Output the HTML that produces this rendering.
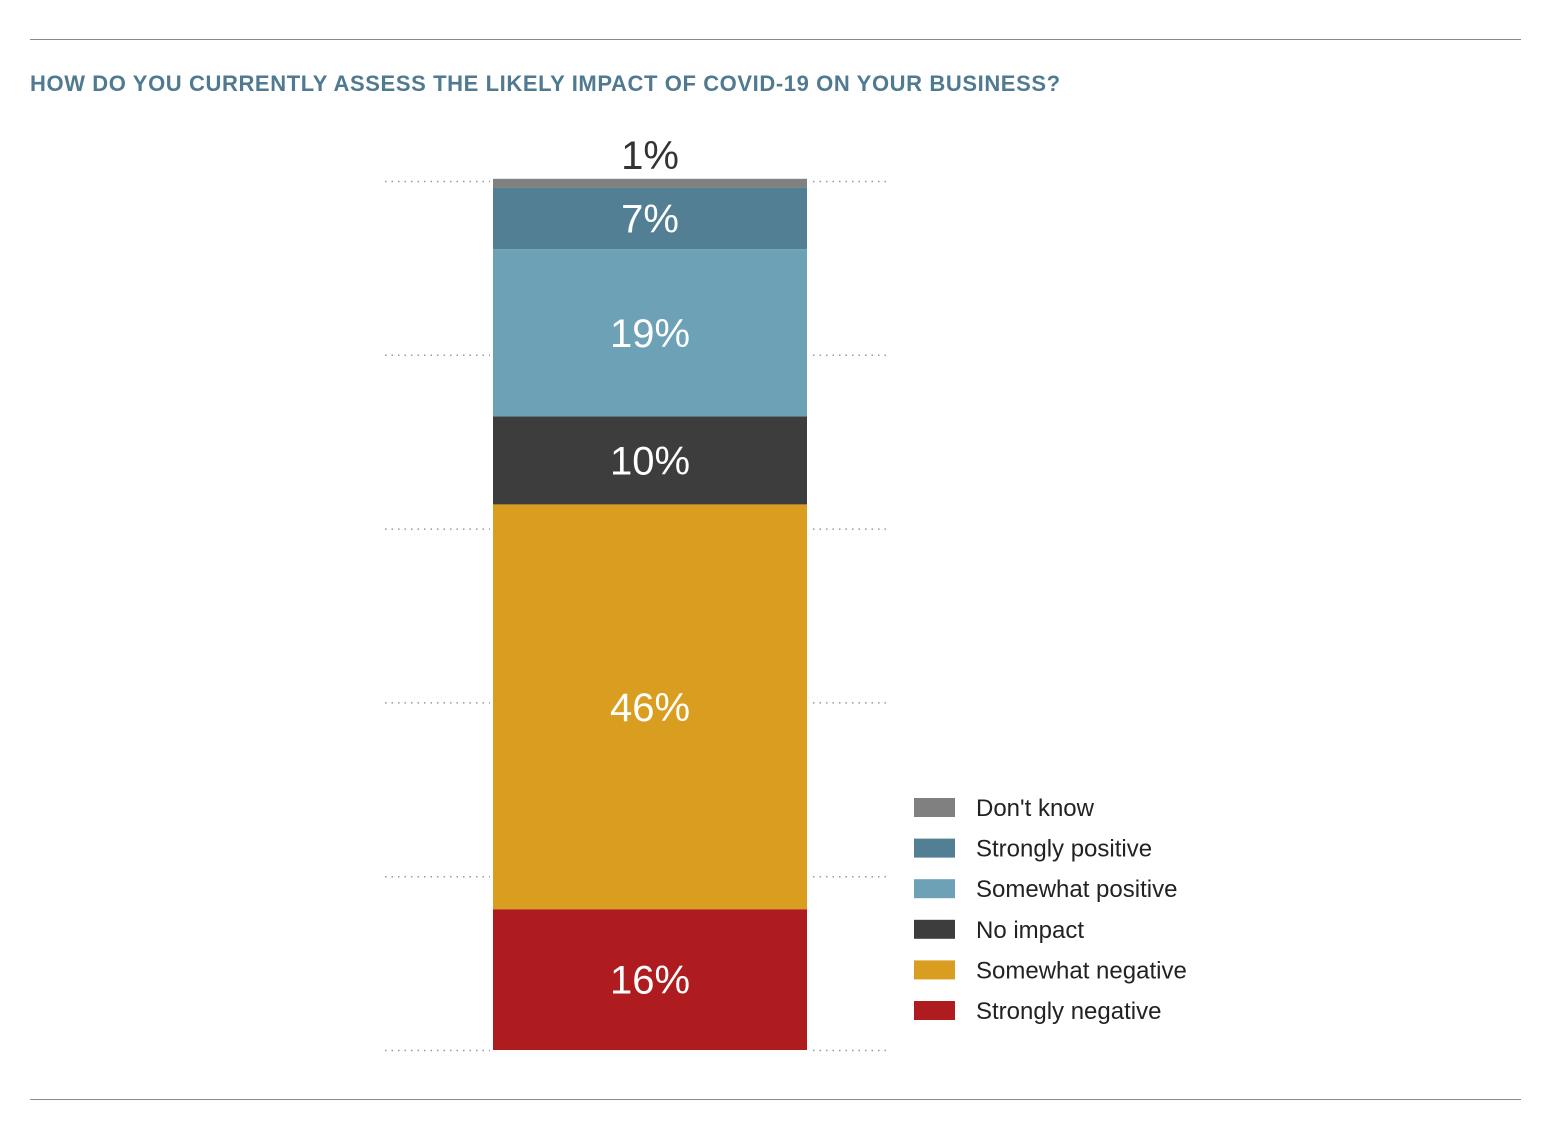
<!DOCTYPE html>
<html><head><meta charset="utf-8">
<style>
body{margin:0;background:#fff;width:1556px;height:1135px;overflow:hidden;font-family:"Liberation Sans",sans-serif;}
</style></head>
<body>
<svg width="1556" height="1135" viewBox="0 0 1556 1135">
<line x1="30" y1="39.5" x2="1521" y2="39.5" stroke="#8a8a8a" stroke-width="1"/>
<line x1="30" y1="1099.5" x2="1521" y2="1099.5" stroke="#8a8a8a" stroke-width="1"/>
<text x="30" y="91" font-size="22" font-weight="bold" fill="#4f7a91" letter-spacing="0.6">HOW DO YOU CURRENTLY ASSESS THE LIKELY IMPACT OF COVID-19 ON YOUR BUSINESS?</text>
<g id="grid"></g>
<g id="bars"></g>
<g id="legend"></g>
</svg>
<script>
const categories=["Strongly negative","Somewhat negative","No impact","Somewhat positive","Strongly positive","Don't know"];
const values=[16,46,10,19,7,1];
const colors=["#ae1c20","#d99d1f","#3d3d3d","#6ca1b6","#527f94","#808080"];
const gridTicks=[0,20,40,60,80,100];
const NS="http://www.w3.org/2000/svg";
const base=1050, barScale=8.8, gridScale=8.69;
const yBar=v=>base-v*barScale;
const yGrid=v=>base-v*gridScale;
function mk(t,a){const e=document.createElementNS(NS,t);for(const k in a)e.setAttribute(k,a[k]);return e;}
const grid=document.getElementById('grid');
gridTicks.forEach(t=>{
 const y=yGrid(t)+0.5;
 [[385,490],[813,886]].forEach(([a,b],i)=>{
  const l=mk('line',{x1:a,y1:y,x2:b,y2:y,stroke:'#999','stroke-width':1.5,'stroke-dasharray':'1.5 5'});
  
  
  grid.appendChild(l);
 });
});
const bars=document.getElementById('bars');
let cum=0;
values.forEach((v,i)=>{
 const y0=yBar(cum),y1=yBar(cum+v);
 const r=mk('rect',{x:493,y:y1,width:314,height:y0-y1,fill:colors[i]});
 
 
 bars.appendChild(r);
 const small=(y0-y1)<30;
 const ty=small? y1-10 : (y0+y1)/2+14;
 const tx=mk('text',{x:650,y:ty,'text-anchor':'middle','font-size':40,fill:small?'#333':'#fff'});
 tx.textContent=v+'%';
 
 
 bars.appendChild(tx);
 cum+=v;
});
const lg=document.getElementById('legend');
for(let k=0;k<categories.length;k++){
 const i=categories.length-1-k;
 const y=798+k*40.6;
 const s=mk('rect',{x:914,y:y,width:41,height:19,fill:colors[i]});
 
 
 lg.appendChild(s);
 const t=mk('text',{x:976,y:y+18,'font-size':24,fill:'#222'});
 t.textContent=categories[i];
 
 
 lg.appendChild(t);
}
</script>
</body></html>
